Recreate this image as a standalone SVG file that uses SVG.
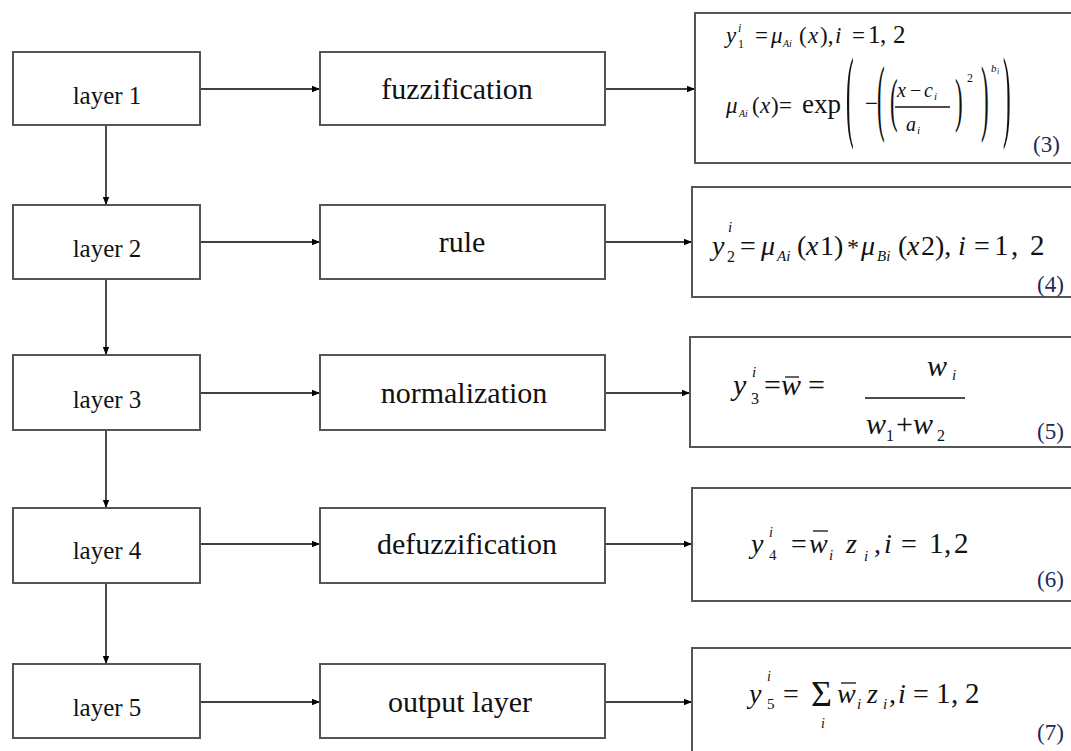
<svg xmlns="http://www.w3.org/2000/svg" width="1071" height="751" viewBox="0 0 1071 751">
<defs>
<marker id="ah" markerWidth="9" markerHeight="8" refX="8" refY="4" orient="auto" markerUnits="userSpaceOnUse">
<path d="M0,0.8 L8,4 L0,7.2 Z" fill="#000"/>
</marker>
<style>
.box{fill:#fff;stroke:#555;stroke-width:2}
.fbox{fill:#fff;stroke:#555;stroke-width:2}
.lbl{font-family:"Liberation Serif",serif;font-size:25px;fill:#111;text-anchor:middle}
.mid{font-family:"Liberation Serif",serif;font-size:30px;fill:#111;text-anchor:middle}
.ed{font-family:"Liberation Serif",serif;font-size:23px;fill:#1c2a58}
.c line{stroke:#000;stroke-width:1.4;fill:none}
.f text{font-family:"Liberation Serif",serif;fill:#111}
.f .i{font-style:italic}
.bar{stroke:#111;stroke-width:1.3}
</style>
</defs>
<rect width="1071" height="751" fill="#fff"/>

<g id="connectors" class="c">
<line x1="200" y1="89" x2="320" y2="89" marker-end="url(#ah)"/>
<line x1="605" y1="89" x2="695" y2="89" marker-end="url(#ah)"/>
<line x1="200" y1="242" x2="320" y2="242" marker-end="url(#ah)"/>
<line x1="605" y1="242" x2="692" y2="242" marker-end="url(#ah)"/>
<line x1="200" y1="393" x2="320" y2="393" marker-end="url(#ah)"/>
<line x1="605" y1="393" x2="690" y2="393" marker-end="url(#ah)"/>
<line x1="200" y1="544" x2="320" y2="544" marker-end="url(#ah)"/>
<line x1="605" y1="544" x2="692" y2="544" marker-end="url(#ah)"/>
<line x1="200" y1="702" x2="320" y2="702" marker-end="url(#ah)"/>
<line x1="605" y1="702" x2="692" y2="702" marker-end="url(#ah)"/>
<line x1="106" y1="125" x2="106" y2="205" marker-end="url(#ah)"/>
<line x1="106" y1="279" x2="106" y2="355" marker-end="url(#ah)"/>
<line x1="106" y1="430" x2="106" y2="508" marker-end="url(#ah)"/>
<line x1="106" y1="583" x2="106" y2="664" marker-end="url(#ah)"/>
</g>

<g id="layer1"><rect class="box" x="13" y="52" width="187" height="73"/><text class="lbl" x="107" y="104">layer 1</text></g>
<g id="layer2"><rect class="box" x="13" y="205" width="187" height="74"/><text class="lbl" x="107" y="257">layer 2</text></g>
<g id="layer3"><rect class="box" x="13" y="355" width="187" height="75"/><text class="lbl" x="107" y="408">layer 3</text></g>
<g id="layer4"><rect class="box" x="13" y="508" width="187" height="75"/><text class="lbl" x="107" y="559">layer 4</text></g>
<g id="layer5"><rect class="box" x="13" y="664" width="187" height="74"/><text class="lbl" x="107" y="716">layer 5</text></g>

<g id="fuzzification"><rect class="box" x="320" y="52" width="285" height="73"/><text class="mid" x="457" y="99">fuzzification</text></g>
<g id="rule"><rect class="box" x="320" y="205" width="285" height="74"/><text class="mid" x="462" y="252">rule</text></g>
<g id="normalization"><rect class="box" x="320" y="355" width="285" height="75"/><text class="mid" x="464" y="403">normalization</text></g>
<g id="defuzzification"><rect class="box" x="320" y="508" width="285" height="75"/><text class="mid" x="467" y="554">defuzzification</text></g>
<g id="output-layer"><rect class="box" x="320" y="664" width="285" height="74"/><text class="mid" x="460" y="712">output layer</text></g>

<g id="eq3">
<rect class="fbox" x="695" y="13" width="400" height="150"/>
<g class="f" font-size="23">
<text class="i" x="726" y="43">y</text>
<text class="i" x="738" y="32" font-size="12">i</text>
<text x="738" y="48" font-size="12">1</text>
<text x="755" y="43">=</text>
<text class="i" x="771" y="43">μ</text>
<text class="i" x="783" y="47" font-size="10">Ai</text>
<text x="799" y="43">(</text>
<text class="i" x="808" y="43">x</text>
<text x="820" y="43">),</text>
<text class="i" x="835" y="43">i</text>
<text x="852" y="43">=</text>
<text x="868" y="43" font-size="25">1</text>
<text x="880" y="43" font-size="25">,</text>
<text x="893" y="43" font-size="25">2</text>

<text class="i" x="726" y="113">μ</text>
<text class="i" x="739" y="117" font-size="10">Ai</text>
<text x="752" y="113">(</text>
<text class="i" x="760" y="113">x</text>
<text x="771" y="113">)</text>
<text x="779" y="113">=</text>
<text x="802" y="113" font-size="27">exp</text>
<text transform="translate(846,128) scale(1,4.4)">(</text>
<text x="865" y="111">−</text>
<text transform="translate(877,125) scale(1,3.7)">(</text>
<text transform="translate(890,120) scale(1,2.6)">(</text>
<text class="i" x="897" y="97" font-size="20">x</text>
<text x="910" y="97" font-size="20">−</text>
<text class="i" x="924" y="97" font-size="20">c</text>
<text class="i" x="934" y="100" font-size="11">i</text>
<line class="bar" x1="895" y1="107" x2="950" y2="107"/>
<text class="i" x="906" y="131" font-size="20">a</text>
<text class="i" x="917" y="134" font-size="11">i</text>
<text transform="translate(955,120) scale(1,2.6)">)</text>
<text x="967" y="82" font-size="12">2</text>
<text transform="translate(981,125) scale(1,3.7)">)</text>
<text class="i" x="991" y="72" font-size="11">b</text>
<text class="i" x="997" y="74" font-size="8">i</text>
<text transform="translate(1003,128) scale(1,4.4)">)</text>
</g>
<text class="ed" x="1033" y="152">(3)</text>
</g>

<g id="eq4">
<rect class="fbox" x="692" y="187" width="400" height="110"/>
<g class="f" font-size="28">
<text class="i" x="712" y="255">y</text>
<text class="i" x="728" y="232" font-size="15">i</text>
<text x="727" y="262" font-size="16">2</text>
<text x="740" y="255">=</text>
<text class="i" x="761" y="255">μ</text>
<text class="i" x="777" y="261" font-size="15">Ai</text>
<text x="797" y="255">(</text>
<text class="i" x="806" y="255">x</text>
<text x="820" y="255">1)</text>
<text x="847" y="255" font-size="24">*</text>
<text class="i" x="861" y="255">μ</text>
<text class="i" x="877" y="261" font-size="15">Bi</text>
<text x="898" y="255">(</text>
<text class="i" x="907" y="255">x</text>
<text x="921" y="255">2),</text>
<text class="i" x="958" y="255">i</text>
<text x="974" y="255">=</text>
<text x="994" y="255" font-size="29">1</text>
<text x="1011" y="255" font-size="29">,</text>
<text x="1030" y="255" font-size="29">2</text>
</g>
<text class="ed" x="1037" y="292">(4)</text>
</g>

<g id="eq5">
<rect class="fbox" x="690" y="337" width="400" height="110"/>
<g class="f" font-size="30">
<text class="i" x="733" y="395">y</text>
<text class="i" x="752" y="377" font-size="15">i</text>
<text x="751" y="404" font-size="16">3</text>
<text x="764" y="395">=</text>
<text class="i" x="781" y="395">w</text>
<line class="bar" x1="785" y1="377" x2="799" y2="377"/>
<text x="808" y="395">=</text>
<text class="i" x="927" y="376">w</text>
<text class="i" x="952" y="380" font-size="15">i</text>
<line class="bar" x1="865" y1="398" x2="965" y2="398"/>
<text class="i" x="866" y="434">w</text>
<text x="886" y="441" font-size="16">1</text>
<text x="896" y="434">+</text>
<text class="i" x="913" y="434">w</text>
<text x="937" y="441" font-size="16">2</text>
</g>
<text class="ed" x="1037" y="439">(5)</text>
</g>

<g id="eq6">
<rect class="fbox" x="692" y="488" width="400" height="113"/>
<g class="f" font-size="28">
<text class="i" x="751" y="553">y</text>
<text class="i" x="769" y="537" font-size="14">i</text>
<text x="769" y="560" font-size="15">4</text>
<text x="791" y="553">=</text>
<text class="i" x="809" y="553">w</text>
<line class="bar" x1="813" y1="531" x2="828" y2="531"/>
<text class="i" x="829" y="560" font-size="15">i</text>
<text class="i" x="846" y="553">z</text>
<text class="i" x="864" y="561" font-size="15">i</text>
<text x="874" y="553">,</text>
<text class="i" x="884" y="553">i</text>
<text x="901" y="553">=</text>
<text x="929" y="553" font-size="29">1</text>
<text x="944" y="553" font-size="29">,</text>
<text x="954" y="553" font-size="29">2</text>
</g>
<text class="ed" x="1037" y="587">(6)</text>
</g>

<g id="eq7">
<rect class="fbox" x="692" y="648" width="400" height="120"/>
<g class="f" font-size="28">
<text class="i" x="749" y="703">y</text>
<text class="i" x="767" y="681" font-size="14">i</text>
<text x="767" y="709" font-size="15">5</text>
<text x="783" y="703">=</text>
<text x="811" y="706" font-size="36">Σ</text>
<text class="i" x="821" y="728" font-size="14">i</text>
<text class="i" x="837" y="703">w</text>
<line class="bar" x1="841" y1="683" x2="856" y2="683"/>
<text class="i" x="857" y="709" font-size="15">i</text>
<text class="i" x="867" y="703">z</text>
<text class="i" x="883" y="709" font-size="15">i</text>
<text x="889" y="703">,</text>
<text class="i" x="898" y="703">i</text>
<text x="913" y="703">=</text>
<text x="936" y="703" font-size="29">1</text>
<text x="951" y="703" font-size="29">,</text>
<text x="965" y="703" font-size="29">2</text>
</g>
<text class="ed" x="1037" y="740">(7)</text>
</g>
</svg>
